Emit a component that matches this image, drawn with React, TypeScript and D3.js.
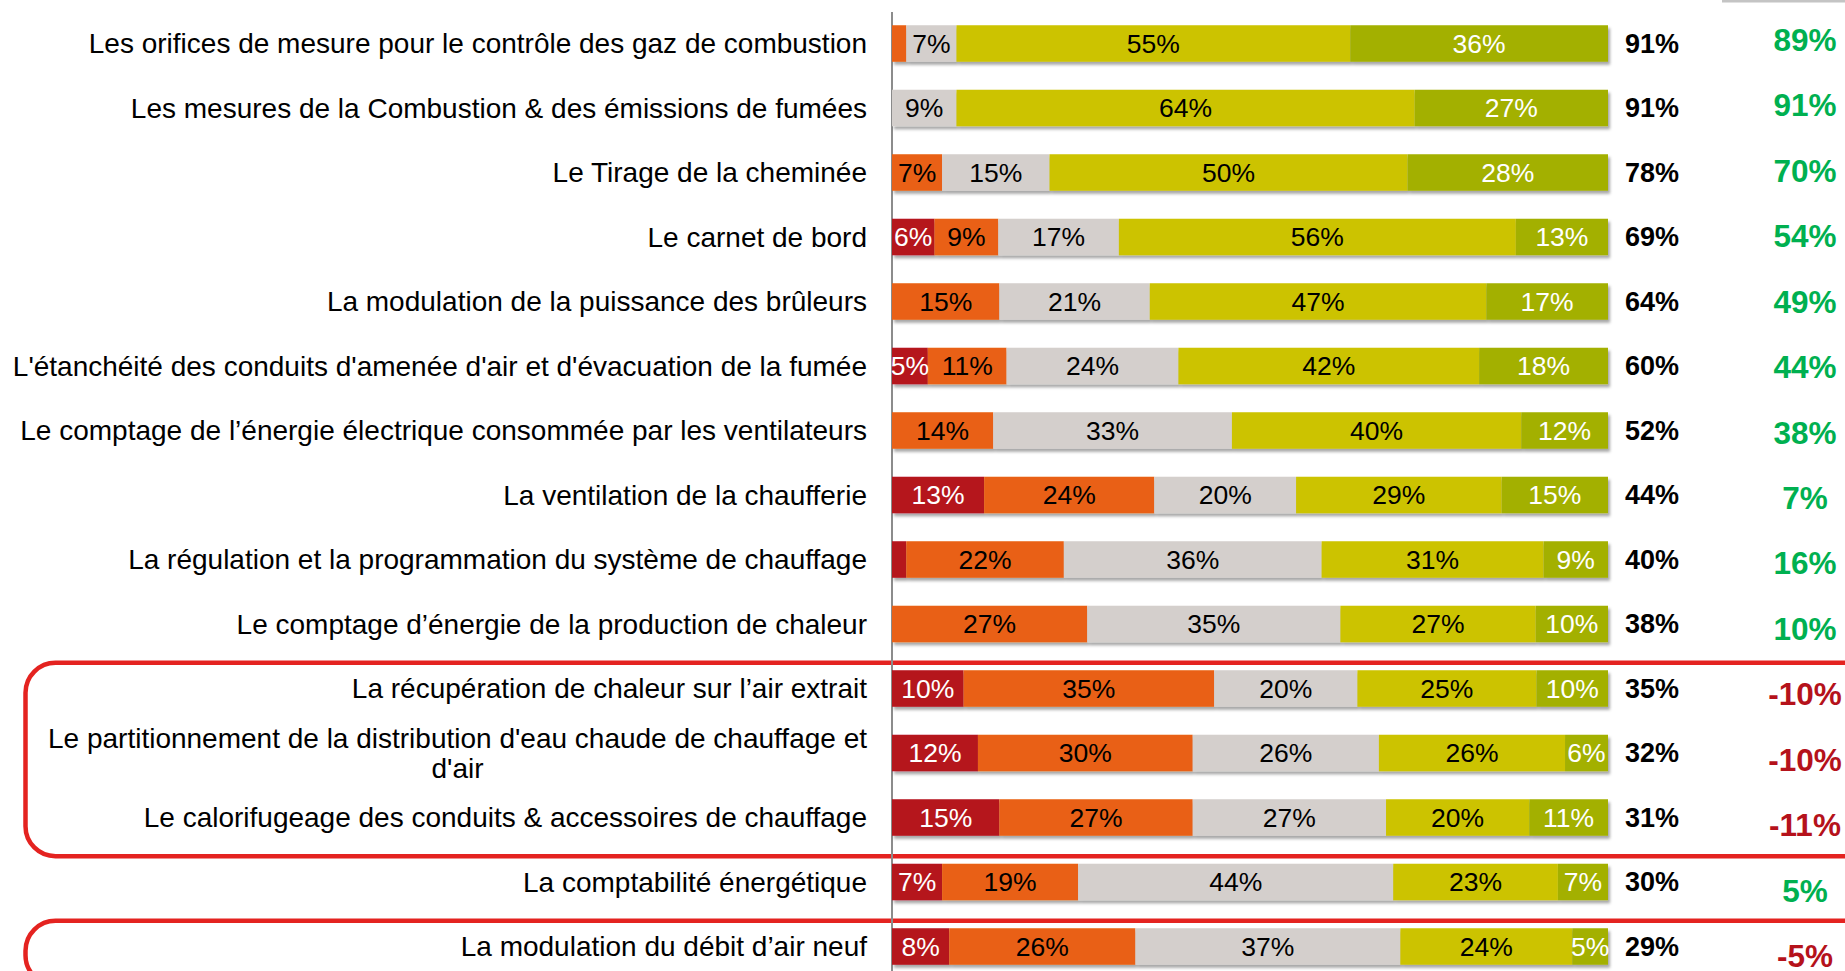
import React from "react";
import * as d3 from "d3";

const categories: string[][] = [
  ["Les orifices de mesure pour le contrôle des gaz de combustion"],
  ["Les mesures de la Combustion & des émissions de fumées"],
  ["Le Tirage de la cheminée"],
  ["Le carnet de bord"],
  ["La modulation de la puissance des brûleurs"],
  ["L'étanchéité des conduits d'amenée d'air et d'évacuation de la fumée"],
  ["Le comptage de l’énergie électrique consommée par les ventilateurs"],
  ["La ventilation de la chaufferie"],
  ["La régulation et la programmation du système de chauffage"],
  ["Le comptage d’énergie de la production de chaleur"],
  ["La récupération de chaleur sur l’air extrait"],
  ["Le partitionnement de la distribution d'eau chaude de chauffage et", "d'air"],
  ["Le calorifugeage des conduits & accessoires de chauffage"],
  ["La comptabilité énergétique"],
  ["La modulation du débit d’air neuf"],
];

const seriesKeys = ["tresMauvais", "mauvais", "moyen", "bon", "tresBon"];
const tresMauvais = [0, 0, 0, 6, 0, 5, 0, 13, 2, 0, 10, 12, 15, 7, 8];
const mauvais = [2, 0, 7, 9, 15, 11, 14, 24, 22, 27, 35, 30, 27, 19, 26];
const moyen = [7, 9, 15, 17, 21, 24, 33, 20, 36, 35, 20, 26, 27, 44, 37];
const bon = [55, 64, 50, 56, 47, 42, 40, 29, 31, 27, 25, 26, 20, 23, 24];
const tresBon = [36, 27, 28, 13, 17, 18, 12, 15, 9, 10, 10, 6, 11, 7, 5];
const totals = [91, 91, 78, 69, 64, 60, 52, 44, 40, 38, 35, 32, 31, 30, 29];
const evolution = [89, 91, 70, 54, 49, 44, 38, 7, 16, 10, -10, -10, -11, 5, -5];
const highlightGroups = [[10, 12], [14, 14]];

const seriesColors = ["#B5121B", "#E96114", "#D4CFCC", "#CCC300", "#A3B000"];
const seriesTextColors = ["#FFFFFF", "#000000", "#000000", "#000000", "#FFFFFF"];

const W = 1845;
const H = 971;
const FONT = "'Liberation Sans', Arial, sans-serif";
const LABEL_SIZE = 28;

function measure(text: string, font: string): number {
  const c = document.createElement("canvas").getContext("2d");
  if (!c) return text.length * 13;
  c.font = font;
  return c.measureText(text).width;
}

export default function App() {
  const rows = categories.map((_, i) => ({
    idx: i,
    tresMauvais: tresMauvais[i],
    mauvais: mauvais[i],
    moyen: moyen[i],
    bon: bon[i],
    tresBon: tresBon[i],
  }));
  const sums = rows.map((r) => seriesKeys.reduce((s, k) => s + (r as any)[k], 0));
  const normRows = rows.map((r, i) => {
    const o: any = { idx: r.idx };
    seriesKeys.forEach((k) => (o[k] = ((r as any)[k] / sums[i]) * 100));
    return o;
  });
  const stacked = d3.stack<any>().keys(seriesKeys)(normRows);

  const y = d3
    .scaleBand<number>()
    .domain(d3.range(categories.length))
    .range([11.25, 978.75])
    .paddingInner(0.434)
    .paddingOuter(0.217);
  const x = d3.scaleLinear().domain([0, 100]).range([892, 1608]);
  const yRight = d3.scalePoint<number>().domain(d3.range(categories.length)).range([40, 956]);

  const step = y.step();
  const labelFont = `${LABEL_SIZE}px ${FONT}`;

  return (
    <svg
      width={W}
      height={H}
      style={{ position: "absolute", left: 0, top: 0, background: "#fff" }}
      fontFamily={FONT}
    >
      <defs>
        <filter id="shadow" x="-5%" y="-30%" width="110%" height="180%">
          <feDropShadow dx="2" dy="3" stdDeviation="1.6" floodColor="#000" floodOpacity="0.35" />
        </filter>
      </defs>
      <rect x={0} y={0} width={W} height={H} fill="#fff" />
      <rect x={1722} y={0} width={123} height={2.5} fill="#C4C4C4" />

      {highlightGroups.map(([a, b], gi) => {
        const top = (y(a) as number) - (step - y.bandwidth()) / 2 + 6.5;
        const bottom = (y(b) as number) + y.bandwidth() + (step - y.bandwidth()) / 2 + 6.5;
        return (
          <rect
            key={gi}
            x={25.5}
            y={top}
            width={1950}
            height={Math.min(bottom - top, 400)}
            rx={30}
            ry={30}
            fill="none"
            stroke="#E42320"
            strokeWidth={4.5}
          />
        );
      })}

      <line x1={892} x2={892} y1={12} y2={H} stroke="#8C8C8C" strokeWidth={2} />

      {rows.map((r, i) => (
        <g key={i} filter="url(#shadow)">
          {stacked.map((s, si) => {
            const d = s[i];
            return (
              <rect
                key={si}
                x={x(d[0])}
                y={y(i)}
                width={Math.max(0, x(d[1]) - x(d[0]))}
                height={y.bandwidth()}
                fill={seriesColors[si]}
              />
            );
          })}
        </g>
      ))}

      {rows.map((r, i) => {
        const cy = (y(i) as number) + y.bandwidth() / 2;
        return (
          <g key={"t" + i}>
            {stacked.map((s, si) => {
              const d = s[i];
              const v = (r as any)[seriesKeys[si]];
              if (v < 5) return null;
              return (
                <text
                  key={si}
                  x={(x(d[0]) + x(d[1])) / 2}
                  y={cy}
                  dy="0.35em"
                  textAnchor="middle"
                  fontSize={26.5}
                  fill={seriesTextColors[si]}
                >
                  {v}%
                </text>
              );
            })}
            <text x={1652} y={cy} dy="0.35em" textAnchor="middle" fontSize={27} fontWeight="bold" fill="#000">
              {totals[i]}%
            </text>
            <text
              x={1805}
              y={yRight(i)}
              dy="0.35em"
              textAnchor="middle"
              fontSize={31.5}
              fontWeight="bold"
              fill={evolution[i] < 0 ? "#B5121B" : "#00B050"}
            >
              {evolution[i]}%
            </text>
          </g>
        );
      })}

      {categories.map((lines, i) => {
        const cy = (y(i) as number) + y.bandwidth() / 2;
        if (lines.length === 1) {
          return (
            <text key={"l" + i} x={867} y={cy} dy="0.35em" textAnchor="end" fontSize={LABEL_SIZE} fill="#000">
              {lines[0]}
            </text>
          );
        }
        const w0 = measure(lines[0], labelFont);
        const centerX = 867 - w0 / 2;
        const lh = 30;
        return (
          <g key={"l" + i}>
            {lines.map((ln, li) => (
              <text
                key={li}
                x={centerX}
                y={cy + (li - (lines.length - 1) / 2) * lh}
                dy="0.35em"
                textAnchor="middle"
                fontSize={LABEL_SIZE}
                fill="#000"
              >
                {ln}
              </text>
            ))}
          </g>
        );
      })}
    </svg>
  );
}
